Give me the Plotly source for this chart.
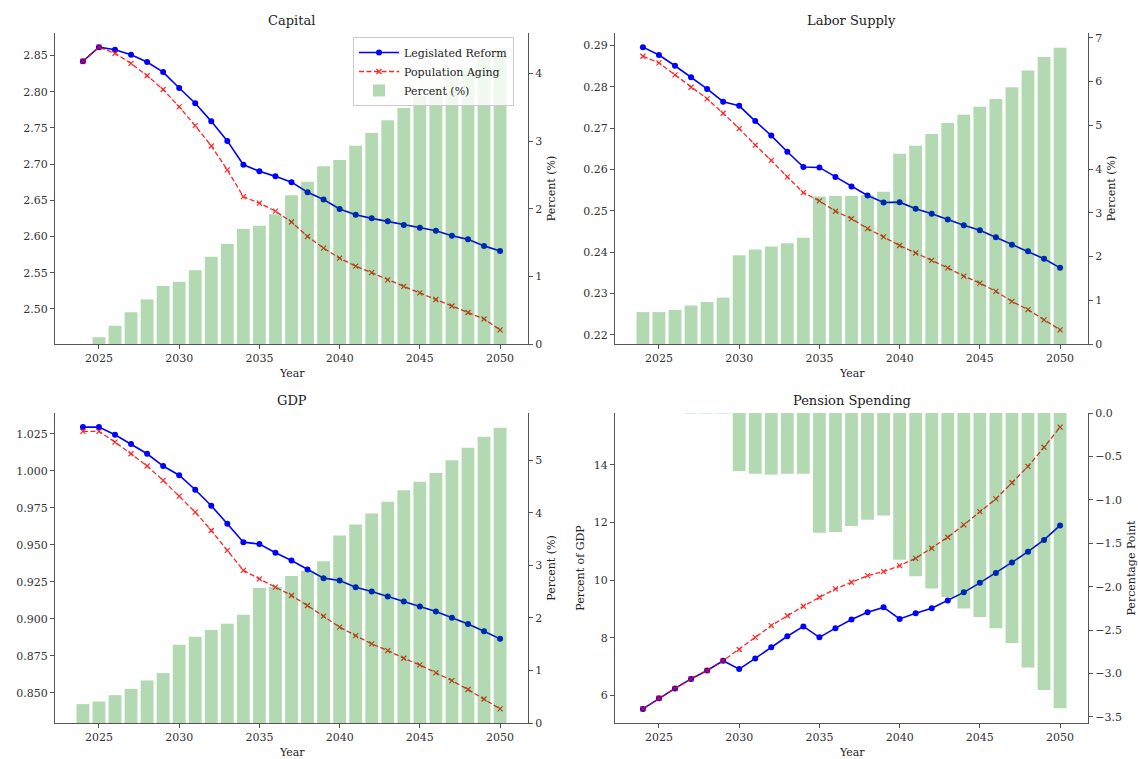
import plotly.graph_objects as go

years = list(range(2024, 2051))

capital_reform = [2.842, 2.8615, 2.858, 2.851, 2.841, 2.827, 2.805, 2.784, 2.759, 2.732, 2.699,
                  2.690, 2.683, 2.675, 2.661, 2.651, 2.638, 2.630, 2.625, 2.621, 2.616, 2.612,
                  2.608, 2.601, 2.596, 2.587, 2.580]
capital_aging = [2.842, 2.8615, 2.853, 2.839, 2.822, 2.803, 2.779, 2.753, 2.725, 2.692, 2.655,
                 2.646, 2.635, 2.620, 2.600, 2.584, 2.570, 2.559, 2.550, 2.540, 2.531, 2.522,
                 2.513, 2.504, 2.495, 2.486, 2.471]
capital_pct = [0.0, 0.10, 0.27, 0.47, 0.66, 0.86, 0.92, 1.09, 1.29, 1.48, 1.70, 1.75, 1.92,
               2.20, 2.40, 2.63, 2.72, 2.93, 3.12, 3.31, 3.49, 3.67, 3.79, 3.96, 4.08, 4.23, 4.38]

labor_reform = [0.2896, 0.2877, 0.2851, 0.2823, 0.2795, 0.2764, 0.2754, 0.2717, 0.2682, 0.2643,
                0.2606, 0.2605, 0.2582, 0.2559, 0.2537, 0.2520, 0.2521, 0.2505, 0.2493, 0.2479,
                0.2465, 0.2453, 0.2436, 0.2418, 0.2402, 0.2384, 0.2362]
labor_aging = [0.2874, 0.2858, 0.2829, 0.2799, 0.2771, 0.2736, 0.2699, 0.2659, 0.2622, 0.2582,
               0.2544, 0.2524, 0.2499, 0.2481, 0.2457, 0.2437, 0.2416, 0.2398, 0.2380, 0.2362,
               0.2342, 0.2325, 0.2305, 0.2281, 0.2261, 0.2236, 0.2212]
labor_pct = [0.73, 0.73, 0.78, 0.88, 0.96, 1.06, 2.03, 2.16, 2.23, 2.30, 2.43, 3.37, 3.38,
             3.38, 3.40, 3.48, 4.35, 4.53, 4.80, 5.05, 5.24, 5.42, 5.60, 5.87, 6.25, 6.56, 6.77]

gdp_reform = [1.0295, 1.0295, 1.0243, 1.0180, 1.0115, 1.0032, 0.9970, 0.9872, 0.9764, 0.9642,
              0.9518, 0.9505, 0.9446, 0.9394, 0.9333, 0.9275, 0.9259, 0.9214, 0.9185, 0.9151,
              0.9117, 0.9083, 0.9050, 0.9007, 0.8966, 0.8917, 0.8865]
gdp_aging = [1.0266, 1.0266, 1.0194, 1.0115, 1.0032, 0.9935, 0.9829, 0.9721, 0.9597, 0.9462,
             0.9327, 0.9270, 0.9214, 0.9158, 0.9090, 0.9018, 0.8944, 0.8887, 0.8831, 0.8786,
             0.8734, 0.8689, 0.8635, 0.8583, 0.8523, 0.8459, 0.8392]
gdp_pct = [0.36, 0.41, 0.53, 0.65, 0.81, 0.95, 1.49, 1.64, 1.77, 1.89, 2.06, 2.57, 2.59,
           2.80, 2.90, 3.08, 3.57, 3.78, 3.99, 4.21, 4.43, 4.59, 4.76, 5.00, 5.24, 5.45, 5.62]

pension_reform = [5.54, 5.91, 6.25, 6.58, 6.87, 7.21, 6.92, 7.29, 7.68, 8.06, 8.40, 8.02, 8.34,
                  8.64, 8.89, 9.06, 8.66, 8.86, 9.03, 9.30, 9.58, 9.91, 10.25, 10.62, 10.99,
                  11.40, 11.90]
pension_aging = [5.54, 5.91, 6.25, 6.58, 6.87, 7.21, 7.60, 8.02, 8.43, 8.77, 9.10, 9.41, 9.70,
                 9.93, 10.16, 10.30, 10.51, 10.76, 11.11, 11.49, 11.92, 12.38, 12.82, 13.38,
                 13.95, 14.61, 15.31]
pension_pp = [0.0, 0.0, 0.0, -0.005, -0.005, -0.005, -0.67, -0.70, -0.71, -0.70, -0.70, -1.38,
              -1.37, -1.30, -1.23, -1.18, -1.69, -1.88, -2.02, -2.12, -2.25, -2.35, -2.48,
              -2.65, -2.93, -3.19, -3.40]

panels = [
    ("Capital", capital_reform, capital_aging, capital_pct, "", "Percent (%)"),
    ("Labor Supply", labor_reform, labor_aging, labor_pct, "", "Percent (%)"),
    ("GDP", gdp_reform, gdp_aging, gdp_pct, "", "Percent (%)"),
    ("Pension Spending", pension_reform, pension_aging, pension_pp, "Percent of GDP", "Percentage Point"),
]

W, H = 1138, 759
FONT = "DejaVu Serif"
AXIS_COLOR = "#555555"
BLUE = "#0000ff"
RED = "#ff0000"
BAR = "rgba(0,128,0,0.3)"

# Plot-area domains in pixels: (left, right, top, bottom)
boxes = [(55, 528, 33, 344), (615, 1088, 33, 344), (55, 528, 413, 723), (615, 1088, 413, 723)]


def padded(vals, frac=0.05):
    lo, hi = min(vals), max(vals)
    pad = (hi - lo) * frac
    return [lo - pad, hi + pad]


def bar_range(vals):
    lo, hi = min(vals), max(vals)
    if hi <= 0:
        return [lo * 1.05, 0]
    return [0, hi * 1.05]


fig = go.Figure()
layout = dict(
    width=W, height=H,
    margin=dict(l=0, r=0, t=0, b=0),
    paper_bgcolor="white", plot_bgcolor="white",
    font=dict(family=FONT, size=11, color="#222222"),
    showlegend=True,
    barmode="overlay",
)

annotations = []
x_lo, x_hi = 2022.26, 2051.74

for i, (title, reform, aging, pct, ylab, y2lab) in enumerate(panels):
    n = i + 1
    xa = "x" if n == 1 else f"x{n}"
    ya = "y" if n == 1 else f"y{n}"
    y2n = n + 4
    ya2 = f"y{y2n}"
    left, right, top, bottom = boxes[i]
    xdom = [left / W, right / W]
    ydom = [1 - bottom / H, 1 - top / H]

    fig.add_trace(go.Scatter(
        x=years, y=reform, xaxis=xa, yaxis=ya, mode="lines+markers",
        name="Legislated Reform", showlegend=(i == 0), legendrank=1,
        line=dict(color=BLUE, width=1.6),
        marker=dict(symbol="circle", size=6, color=BLUE),
    ))
    fig.add_trace(go.Scatter(
        x=years, y=aging, xaxis=xa, yaxis=ya, mode="lines+markers",
        name="Population Aging", showlegend=(i == 0), legendrank=2,
        line=dict(color=RED, width=1.3, dash="5px,2.5px"),
        marker=dict(symbol="x-thin", size=5, color=RED, line=dict(color=RED, width=1.2)),
        opacity=0.85,
    ))
    fig.add_trace(go.Bar(
        x=years, y=pct, xaxis=xa, yaxis=ya2, width=0.8,
        name="Percent (%)", showlegend=(i == 0), legendrank=3,
        marker=dict(color=BAR, line=dict(width=0)),
    ))

    axis_common = dict(
        showline=True, linecolor=AXIS_COLOR, linewidth=1,
        ticks="outside", ticklen=4, tickcolor=AXIS_COLOR, tickwidth=1,
        showgrid=False, zeroline=False, automargin=False,
        tickfont=dict(family=FONT, size=11, color="#333333"),
    )
    layout[f"xaxis{'' if n == 1 else n}"] = dict(
        axis_common, domain=xdom, anchor=ya, range=[x_lo, x_hi],
        tickvals=[2025, 2030, 2035, 2040, 2045, 2050],
    )
    layout[f"yaxis{'' if n == 1 else n}"] = dict(
        axis_common, domain=ydom, anchor=xa, side="left",
        range=padded(reform + aging),
        title=dict(text=ylab, font=dict(family=FONT, size=11), standoff=6),
    )
    layout[f"yaxis{y2n}"] = dict(
        axis_common, overlaying=ya, anchor=xa, side="right",
        range=bar_range(pct),
        title=dict(text=y2lab, font=dict(family=FONT, size=11), standoff=6),
    )
    if i == 0:
        layout["yaxis"]["tickformat"] = ".2f"
        layout["yaxis5"]["dtick"] = 1
    elif i == 1:
        layout["yaxis2"]["tickformat"] = ".2f"
        layout["yaxis2"]["dtick"] = 0.01
        layout["yaxis6"]["dtick"] = 1
    elif i == 2:
        layout["yaxis3"]["tickformat"] = ".3f"
        layout["yaxis3"]["dtick"] = 0.025
        layout["yaxis7"]["dtick"] = 1
    else:
        layout["yaxis4"]["dtick"] = 2
        layout["yaxis8"]["dtick"] = 0.5
        layout["yaxis8"]["tickformat"] = ".1f"

    # subplot title
    annotations.append(dict(
        text=title, x=(xdom[0] + xdom[1]) / 2, y=ydom[1] + 3 / H,
        xref="paper", yref="paper", xanchor="center", yanchor="bottom",
        showarrow=False, font=dict(family=FONT, size=13, color="#222222"),
    ))
    # x-axis title
    annotations.append(dict(
        text="Year", x=(xdom[0] + xdom[1]) / 2, y=ydom[0] - 21 / H,
        xref="paper", yref="paper", xanchor="center", yanchor="top",
        showarrow=False, font=dict(family=FONT, size=11, color="#222222"),
    ))

layout["annotations"] = annotations
layout["legend"] = dict(
    x=353 / W, y=1 - 37 / H, xanchor="left", yanchor="top",
    bgcolor="rgba(255,255,255,0.8)", bordercolor="#cccccc", borderwidth=1,
    font=dict(family=FONT, size=11, color="#222222"),
    tracegroupgap=0, itemwidth=40,
)
fig.update_layout(**layout)

fig.write_html("out.html")
